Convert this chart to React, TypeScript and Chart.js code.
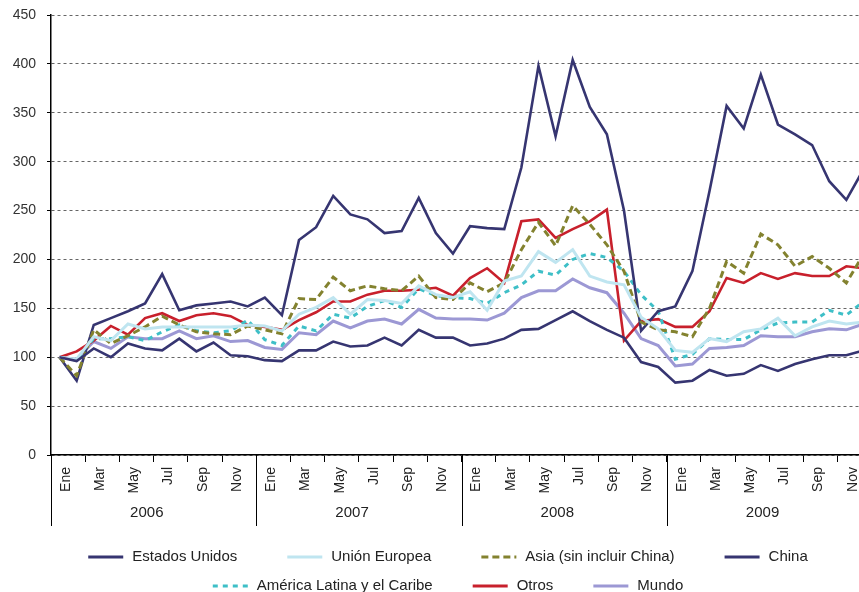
import React, { useEffect, useRef } from "react";
import { Chart, registerables } from "chart.js";

Chart.register(...registerables);

// ---- Data (monthly index, Ene 2006 = 100) ----
const monthLabels = ["Ene", "Feb", "Mar", "Abr", "May", "Jun", "Jul", "Ago", "Sep", "Oct", "Nov", "Dic"];
const yearLabels = ["2006", "2007", "2008", "2009"];

const estadosUnidos = [
  100, 96, 109, 100, 114, 109, 107, 119, 106, 115, 102, 101,
  97, 96, 107, 107, 116, 111, 112, 120, 112, 128, 120, 120,
  112, 114, 119, 128, 129, 138, 147, 137, 128, 120, 95, 90,
  74, 76, 87, 81, 83, 92, 86, 93, 98, 102, 102, 107,
];
const unionEuropea = [
  100, 98, 121, 117, 134, 129, 131, 131, 131, 131, 131, 133,
  132, 127, 144, 151, 161, 144, 159, 158, 155, 173, 164, 161,
  167, 148, 178, 183, 208, 197, 210, 183, 177, 174, 141, 129,
  107, 105, 119, 116, 126, 129, 140, 122, 131, 137, 134, 136,
];
const asiaSinChina = [
  100, 81, 128, 114, 122, 131, 142, 133, 126, 124, 123, 132,
  128, 124, 160, 159, 182, 168, 173, 170, 168, 183, 161, 159,
  176, 167, 176, 210, 238, 214, 255, 236, 215, 188, 136, 128,
  126, 121, 150, 198, 186, 226, 215, 193, 203, 191, 176, 205,
];
const china = [
  100, 76, 133, 140, 147, 155, 185, 148, 153, 155, 157, 152,
  161, 143, 220, 233, 265, 246, 241, 227, 229, 263, 227, 206,
  234, 232, 231, 294, 398, 326, 404, 356, 328, 250, 127, 147,
  152, 188, 270, 357, 334, 389, 338, 328, 317, 280, 261, 292,
];
const americaLatina = [
  100, 97, 119, 119, 121, 117, 126, 133, 127, 125, 127, 138,
  118, 112, 132, 127, 144, 140, 152, 158, 151, 170, 163, 161,
  160, 155, 166, 174, 188, 184, 200, 206, 202, 188, 164, 147,
  98, 103, 119, 118, 118, 128, 135, 136, 136, 148, 143, 157,
];
const otros = [
  100, 106, 117, 132, 123, 140, 145, 137, 143, 145, 142, 133,
  131, 128, 138, 146, 157, 157, 164, 168, 168, 169, 171, 163,
  181, 191, 176, 239, 241, 222, 231, 239, 251, 117, 137, 139,
  131, 131, 147, 181, 176, 186, 180, 186, 183, 183, 193, 191,
];
const mundo = [
  100, 98, 116, 109, 121, 119, 119, 127, 119, 122, 116, 117,
  110, 108, 125, 123, 137, 130, 137, 139, 134, 149, 140, 139,
  139, 138, 145, 161, 168, 168, 180, 171, 166, 145, 119, 112,
  91, 93, 109, 110, 112, 122, 121, 121, 126, 129, 128, 134,
];

const FONT = '"Liberation Sans", Arial, Helvetica, sans-serif';

const toPoints = (arr: number[]) => arr.map((v, i) => ({ x: i + 0.5, y: v }));

const yearAxisPlugin = {
  id: "yearAxis",
  afterDraw(chart: any) {
    const { ctx, chartArea } = chart;
    const xs = chart.scales.x;
    ctx.save();
    ctx.strokeStyle = "#000";
    ctx.lineWidth = 1;
    for (let y = 0; y <= yearLabels.length; y++) {
      const px = Math.round(xs.getPixelForValue(y * 12)) + 0.5;
      ctx.beginPath();
      ctx.moveTo(px, chartArea.bottom);
      ctx.lineTo(px, chartArea.bottom + 71);
      ctx.stroke();
    }
    ctx.fillStyle = "#222";
    ctx.font = `15px ${FONT}`;
    ctx.textAlign = "center";
    ctx.textBaseline = "middle";
    yearLabels.forEach((lab, i) => {
      const px = xs.getPixelForValue(i * 12 + 5.6);
      ctx.fillText(lab, px, chartArea.bottom + 58);
    });
    ctx.restore();
  },
};

const legendPlugin = {
  id: "customLegend",
  afterDraw(chart: any) {
    const { ctx, chartArea } = chart;
    const ds = chart.data.datasets;
    const rows = [[0, 1, 2, 3], [4, 5, 6]];
    const gaps = [50, 40];
    const rowY = [chartArea.bottom + 102, chartArea.bottom + 131];
    const lineW = 35;
    const textGap = 9;
    const cx = chart.width / 2;
    ctx.save();
    ctx.font = `15px ${FONT}`;
    ctx.textBaseline = "middle";
    ctx.textAlign = "left";
    rows.forEach((row, r) => {
      const widths = row.map((i) => lineW + textGap + ctx.measureText(ds[i].label).width);
      const total = widths.reduce((a, b) => a + b, 0) + gaps[r] * (row.length - 1);
      let x = cx - total / 2;
      row.forEach((i, k) => {
        const d = ds[i];
        ctx.beginPath();
        ctx.setLineDash(d.borderDash || []);
        ctx.strokeStyle = d.borderColor;
        ctx.lineWidth = 3;
        ctx.moveTo(x, rowY[r]);
        ctx.lineTo(x + lineW, rowY[r]);
        ctx.stroke();
        ctx.setLineDash([]);
        ctx.fillStyle = "#222";
        ctx.fillText(d.label, x + lineW + textGap, rowY[r]);
        x += widths[k] + gaps[r];
      });
    });
    ctx.restore();
  },
};

export default function App() {
  const canvasRef = useRef<HTMLCanvasElement | null>(null);

  useEffect(() => {
    if (!canvasRef.current) return;
    const navy = "#363571";
    const chart = new Chart(canvasRef.current, {
      type: "line",
      data: {
        datasets: [
          { label: "Estados Unidos", data: toPoints(estadosUnidos), borderColor: navy, borderWidth: 2.6 },
          { label: "Unión Europea", data: toPoints(unionEuropea), borderColor: "#bfe5f0", borderWidth: 3 },
          { label: "Asia (sin incluir China)", data: toPoints(asiaSinChina), borderColor: "#83822f", borderWidth: 3, borderDash: [7, 4] },
          { label: "China", data: toPoints(china), borderColor: navy, borderWidth: 2.6 },
          { label: "América Latina y el Caribe", data: toPoints(americaLatina), borderColor: "#3ebfc7", borderWidth: 3, borderDash: [5, 5] },
          { label: "Otros", data: toPoints(otros), borderColor: "#c8202c", borderWidth: 2.6 },
          { label: "Mundo", data: toPoints(mundo), borderColor: "#9c98d4", borderWidth: 3 },
        ] as any,
      },
      options: {
        responsive: false,
        animation: false,
        events: [],
        elements: { point: { radius: 0 }, line: { tension: 0, fill: false } },
        layout: { padding: { top: 15, right: 24, bottom: 74, left: 0 } },
        plugins: { legend: { display: false }, tooltip: { enabled: false } },
        scales: {
          x: {
            type: "linear",
            min: 0,
            max: 48,
            afterFit: (s: any) => {
              s.height = 75;
              s.paddingLeft = 0;
              s.paddingRight = 0;
            },
            ticks: {
              stepSize: 2,
              autoSkip: false,
              maxRotation: 90,
              minRotation: 90,
              labelOffset: 15,
              padding: 5,
              color: "#222",
              font: { family: FONT, size: 14 },
              callback: (v: any) => (v < 48 ? monthLabels[Number(v) % 12] : ""),
            },
            grid: { drawOnChartArea: false, drawTicks: true, tickLength: 7, color: "#000", lineWidth: 1 },
            border: { color: "#000", width: 1.5 },
          },
          y: {
            min: 0,
            max: 450,
            afterFit: (s: any) => {
              s.width = 51;
              s.paddingTop = 0;
              s.paddingBottom = 0;
            },
            ticks: {
              stepSize: 50,
              padding: 11,
              color: "#333",
              font: { family: FONT, size: 14 },
            },
            grid: { color: "#666", lineWidth: 1, tickLength: 4, tickColor: "#000", drawTicks: true },
            border: { color: "#000", width: 1.5, dash: [3, 3] },
          },
        },
      } as any,
      plugins: [yearAxisPlugin, legendPlugin],
    });
    return () => chart.destroy();
  }, []);

  return (
    <div style={{ position: "fixed", left: 0, top: 0, width: 859, height: 592, overflow: "hidden", background: "#fff" }}>
      <canvas ref={canvasRef} width={896} height={604} style={{ display: "block" }} />
    </div>
  );
}
